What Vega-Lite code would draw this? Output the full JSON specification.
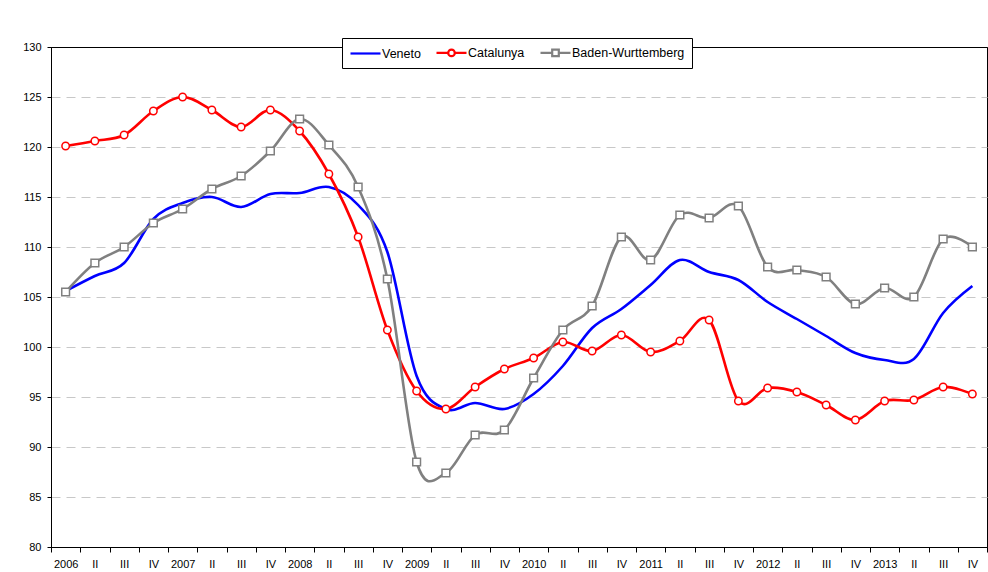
{
  "$schema": "https://vega.github.io/schema/vega-lite/v6.json",
  "width": 936,
  "height": 500,
  "autosize": {"type": "none"},
  "padding": {"left": 51, "top": 47, "right": 1, "bottom": 25},
  "background": "white",
  "config": {
    "font": "Liberation Sans",
    "view": {"stroke": "black", "strokeWidth": 1},
    "axis": {"labelFont": "Liberation Sans", "labelFontSize": 11, "labelColor": "black", "domainColor": "black", "tickColor": "black", "title": null}
  },
  "data": {
    "values": [
      {"t": "2006-I", "Veneto": 105.6, "Catalunya": 120.1, "Baden-Wurttemberg": 105.5},
      {"t": "2006-II", "Veneto": 107.1, "Catalunya": 120.6, "Baden-Wurttemberg": 108.4},
      {"t": "2006-III", "Veneto": 108.4, "Catalunya": 121.2, "Baden-Wurttemberg": 110.0},
      {"t": "2006-IV", "Veneto": 112.8, "Catalunya": 123.6, "Baden-Wurttemberg": 112.4},
      {"t": "2007-I", "Veneto": 114.4, "Catalunya": 125.0, "Baden-Wurttemberg": 113.8},
      {"t": "2007-II", "Veneto": 115.0, "Catalunya": 123.7, "Baden-Wurttemberg": 115.8},
      {"t": "2007-III", "Veneto": 114.0, "Catalunya": 122.0, "Baden-Wurttemberg": 117.1},
      {"t": "2007-IV", "Veneto": 115.3, "Catalunya": 123.7, "Baden-Wurttemberg": 119.6},
      {"t": "2008-I", "Veneto": 115.4, "Catalunya": 121.6, "Baden-Wurttemberg": 122.8},
      {"t": "2008-II", "Veneto": 116.0, "Catalunya": 117.3, "Baden-Wurttemberg": 120.2},
      {"t": "2008-III", "Veneto": 114.2, "Catalunya": 111.0, "Baden-Wurttemberg": 116.0},
      {"t": "2008-IV", "Veneto": 109.5, "Catalunya": 101.7, "Baden-Wurttemberg": 106.8},
      {"t": "2009-I", "Veneto": 97.1, "Catalunya": 95.6, "Baden-Wurttemberg": 88.5},
      {"t": "2009-II", "Veneto": 93.8, "Catalunya": 93.8, "Baden-Wurttemberg": 87.4},
      {"t": "2009-III", "Veneto": 94.4, "Catalunya": 96.0, "Baden-Wurttemberg": 91.2},
      {"t": "2009-IV", "Veneto": 93.8, "Catalunya": 97.8, "Baden-Wurttemberg": 91.7},
      {"t": "2010-I", "Veneto": 95.3, "Catalunya": 98.9, "Baden-Wurttemberg": 96.9},
      {"t": "2010-II", "Veneto": 98.1, "Catalunya": 100.5, "Baden-Wurttemberg": 101.7},
      {"t": "2010-III", "Veneto": 101.9, "Catalunya": 99.6, "Baden-Wurttemberg": 104.1},
      {"t": "2010-IV", "Veneto": 103.8, "Catalunya": 101.2, "Baden-Wurttemberg": 111.0},
      {"t": "2011-I", "Veneto": 106.2, "Catalunya": 99.5, "Baden-Wurttemberg": 108.7},
      {"t": "2011-II", "Veneto": 108.7, "Catalunya": 100.6, "Baden-Wurttemberg": 113.2},
      {"t": "2011-III", "Veneto": 107.5, "Catalunya": 102.7, "Baden-Wurttemberg": 112.9},
      {"t": "2011-IV", "Veneto": 106.7, "Catalunya": 94.6, "Baden-Wurttemberg": 114.1},
      {"t": "2012-I", "Veneto": 104.5, "Catalunya": 95.9, "Baden-Wurttemberg": 108.0},
      {"t": "2012-II", "Veneto": 102.8, "Catalunya": 95.5, "Baden-Wurttemberg": 107.7},
      {"t": "2012-III", "Veneto": 101.1, "Catalunya": 94.2, "Baden-Wurttemberg": 107.0},
      {"t": "2012-IV", "Veneto": 99.4, "Catalunya": 92.7, "Baden-Wurttemberg": 104.3},
      {"t": "2013-I", "Veneto": 98.7, "Catalunya": 94.6, "Baden-Wurttemberg": 105.9},
      {"t": "2013-II", "Veneto": 98.8, "Catalunya": 94.7, "Baden-Wurttemberg": 105.0},
      {"t": "2013-III", "Veneto": 103.4, "Catalunya": 96.0, "Baden-Wurttemberg": 110.8},
      {"t": "2013-IV", "Veneto": 106.1, "Catalunya": 95.3, "Baden-Wurttemberg": 110.0}
    ]
  },
  "transform": [
    {"fold": ["Veneto", "Catalunya", "Baden-Wurttemberg"], "as": ["series", "v"]}
  ],
  "encoding": {
    "x": {
      "field": "t", "type": "ordinal", "sort": null, "bandPosition": 0.5,
      "scale": {"type": "band", "paddingInner": 0, "paddingOuter": 0},
      "axis": {
        "labelAngle": 0, "tickBand": "extent", "tickSize": 5, "labelPadding": 6, "grid": false,
        "labelExpr": "split(datum.label, '-')[1] == 'I' ? split(datum.label, '-')[0] : split(datum.label, '-')[1]"
      }
    },
    "y": {
      "field": "v", "type": "quantitative",
      "scale": {"domain": [80, 130], "nice": false, "zero": false},
      "axis": {
        "values": [80, 85, 90, 95, 100, 105, 110, 115, 120, 125, 130],
        "tickSize": 4, "labelPadding": 6, "grid": true,
        "gridColor": {"condition": {"test": "datum.value == 80 || datum.value == 130", "value": "black"}, "value": "#c8c8c8"},
        "gridDash": {"condition": {"test": "datum.value == 80 || datum.value == 130", "value": []}, "value": [9, 6]},
        "gridWidth": 1
      }
    }
  },
  "layer": [
    {
      "mark": {"type": "line", "interpolate": "cardinal", "strokeWidth": 2.6},
      "encoding": {
        "color": {"field": "series", "type": "nominal",
          "scale": {"domain": ["Veneto", "Catalunya", "Baden-Wurttemberg"], "range": ["#0000ff", "#ff0000", "#808080"]},
          "legend": {
            "title": null, "orient": "none", "legendX": 291, "legendY": -9, "direction": "horizontal",
            "strokeColor": "black", "fillColor": "white", "padding": 7,
            "symbolType": "M-1,0H4", "symbolSize": 144, "symbolStrokeWidth": 2.2,
            "labelFont": "Liberation Sans", "labelFontSize": 12.5, "labelColor": "black",
            "labelOffset": 18, "columnPadding": 11,
            "encode": {"symbols": {"update": {
              "shape": {"signal": "datum.value == 'Catalunya' ? 'M-1,0H0.95M2.05,0H4M2.05,0A0.55,0.55 0 1 1 0.95,0A0.55,0.55 0 1 1 2.05,0Z' : datum.value == 'Baden-Wurttemberg' ? 'M-1,0H0.95M2.05,0H4M0.95,-0.55H2.05V0.55H0.95Z' : 'M-1,0H4'"},
              "fill": {"value": "white"}
            }}}
          }}
      }
    },
    {
      "transform": [{"filter": "datum.series == 'Catalunya'"}],
      "mark": {"type": "point", "shape": "circle", "filled": false, "fill": "white", "size": 55, "strokeWidth": 1.5, "opacity": 1},
      "encoding": {"color": {"field": "series", "type": "nominal"}}
    },
    {
      "transform": [{"filter": "datum.series == 'Baden-Wurttemberg'"}],
      "mark": {"type": "point", "shape": "square", "filled": false, "fill": "white", "size": 60, "strokeWidth": 1.5, "opacity": 1},
      "encoding": {"color": {"field": "series", "type": "nominal"}}
    }
  ]
}
